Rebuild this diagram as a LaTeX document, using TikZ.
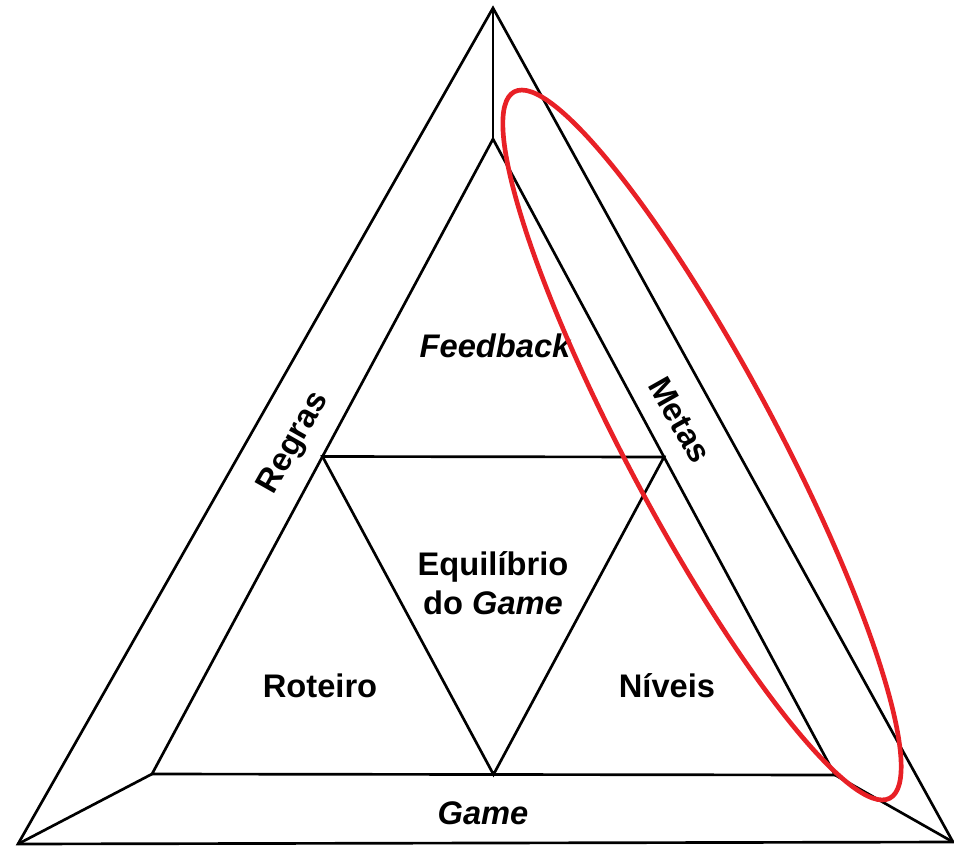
\documentclass[tikz,border=0pt]{standalone}
\usepackage{fontspec}
\setmainfont{Liberation Sans}
\usetikzlibrary{calc}
\begin{document}
\begin{tikzpicture}[x=0.75pt,y=-0.75pt,
  edge/.style={draw=black,line width=2pt,line join=miter},
  lbl/.style={font=\fontsize{24.5}{29}\selectfont\bfseries,inner sep=0pt},
  ilbl/.style={font=\fontsize{24.5}{29}\selectfont\bfseries\itshape,inner sep=0pt},
  redring/.style={draw={rgb,255:red,232;green,32;blue,38},line width=3.5pt}]
\useasboundingbox (0,0) rectangle (954,847);
% outer triangle
\coordinate (OA) at (493,8);
\coordinate (OL) at (18,844);
\coordinate (OR) at (953,842);
% inner triangle
\coordinate (IA) at (493,139);
\coordinate (IL) at (152,774);
\coordinate (IR) at (835,775);
% middle triangle
\coordinate (ML) at ($(IA)!0.5!(IL)$);
\coordinate (MR) at ($(IA)!0.5!(IR)$);
\coordinate (MB) at ($(IL)!0.5!(IR)$);
\draw[edge] (OA) -- (OL) -- (OR) -- cycle;
\draw[edge] (IA) -- (IL) -- (IR) -- cycle;
\draw[edge] (OA) -- (IA);
\draw[edge] (OL) -- (IL);
\draw[edge] (OR) -- (IR);
\draw[edge] (ML) -- (MR) -- (MB) -- cycle;
% labels
\node[ilbl] (fb) at (495,346) {Feedback};
\node[lbl,align=center] (eq) at (493,583) {Equilíbrio\\do \textit{Game}};
\node[lbl] (ro) at (320,686) {Roteiro};
\node[lbl] (ni) at (667,686) {Níveis};
\node[ilbl] (ga) at (483,813) {Game};
\node[lbl,rotate=60.5] (re) at (294,443) {Regras};
\node[lbl,rotate=-60.5] (me) at (680,420) {Metas};
% red ellipse
\coordinate (EC) at (702,445);
\draw[redring,rotate around={-62:(EC)}] (EC) ellipse [x radius=400, y radius=75];
\end{tikzpicture}
\end{document}
